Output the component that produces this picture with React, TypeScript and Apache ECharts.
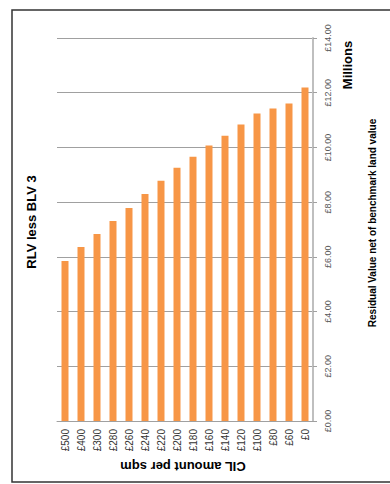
import React, { useEffect, useRef } from "react";
import * as echarts from "echarts";

const categories = ["£500", "£400", "£300", "£280", "£260", "£240", "£220", "£200", "£180", "£160", "£140", "£120", "£100", "£80", "£60", "£0"];
const residualMillions = [5.85, 6.36, 6.84, 7.31, 7.79, 8.3, 8.78, 9.26, 9.66, 10.07, 10.43, 10.84, 11.24, 11.42, 11.61, 12.19];
const chartTitle = "RLV less BLV 3";
const categoryAxisTitle = "CIL amount per sqm";
const valueAxisTitle = "Residual Value net of benchmark land value";
const unitsLabel = "Millions";

export default function App() {
  const ref = useRef<HTMLDivElement>(null);
  useEffect(() => {
    if (!ref.current) return;
    const chart = echarts.init(ref.current, null, { renderer: "svg" });
    const font = "Arial, 'Liberation Sans', sans-serif";
    chart.setOption({
      animation: false,
      backgroundColor: "#ffffff",
      grid: { left: 57, top: 38, right: 77, bottom: 63, containLabel: false },
      xAxis: {
        type: "category",
        data: categories,
        axisLine: { show: true, lineStyle: { color: "#a0a0a0", width: 1 } },
        axisTick: { show: false },
        axisLabel: { rotate: 90, fontSize: 10, color: "#333333", fontFamily: font, margin: 8, interval: 0 },
      },
      yAxis: {
        type: "value",
        position: "right",
        min: 0,
        max: 14,
        interval: 2,
        axisLine: { show: true, lineStyle: { color: "#bfbfbf", width: 2 } },
        axisTick: { show: true, length: 4, lineStyle: { color: "#a0a0a0" } },
        splitLine: { show: true, lineStyle: { color: "#a0a0a0", width: 1 } },
        axisLabel: {
          rotate: 90,
          fontSize: 9,
          color: "#595959",
          fontFamily: font,
          margin: 10,
          formatter: (v: number) => "£" + v.toFixed(2),
        },
      },
      series: [
        {
          type: "bar",
          data: residualMillions,
          barWidth: 7,
          itemStyle: { color: "#f79646" },
        },
      ],
      graphic: [
        {
          type: "rect",
          shape: { x: 12, y: 10, width: 400, height: 472 },
          style: { fill: "none", stroke: "#333333", lineWidth: 1.5 },
          silent: true,
        },
        {
          type: "text",
          x: 31,
          y: 222,
          rotation: Math.PI / 2,
          style: { text: chartTitle, font: `bold 13px ${font}`, fill: "#000000", align: "center", verticalAlign: "middle" },
        },
        {
          type: "text",
          x: 183,
          y: 466,
          rotation: Math.PI,
          style: { text: categoryAxisTitle, font: `bold 13px ${font}`, fill: "#000000", align: "center", verticalAlign: "middle" },
        },
        {
          type: "text",
          x: 347,
          y: 65,
          rotation: Math.PI / 2,
          style: { text: unitsLabel, font: `bold 13px ${font}`, fill: "#000000", align: "center", verticalAlign: "middle" },
        },
        {
          type: "text",
          x: 372,
          y: 223,
          rotation: Math.PI / 2,
          style: { text: valueAxisTitle, font: `bold 10px ${font}`, fill: "#000000", align: "center", verticalAlign: "middle" },
        },
      ],
    });
    return () => chart.dispose();
  }, []);
  return <div ref={ref} style={{ position: "fixed", left: 0, top: 0, width: 390, height: 484 }} />;
}
